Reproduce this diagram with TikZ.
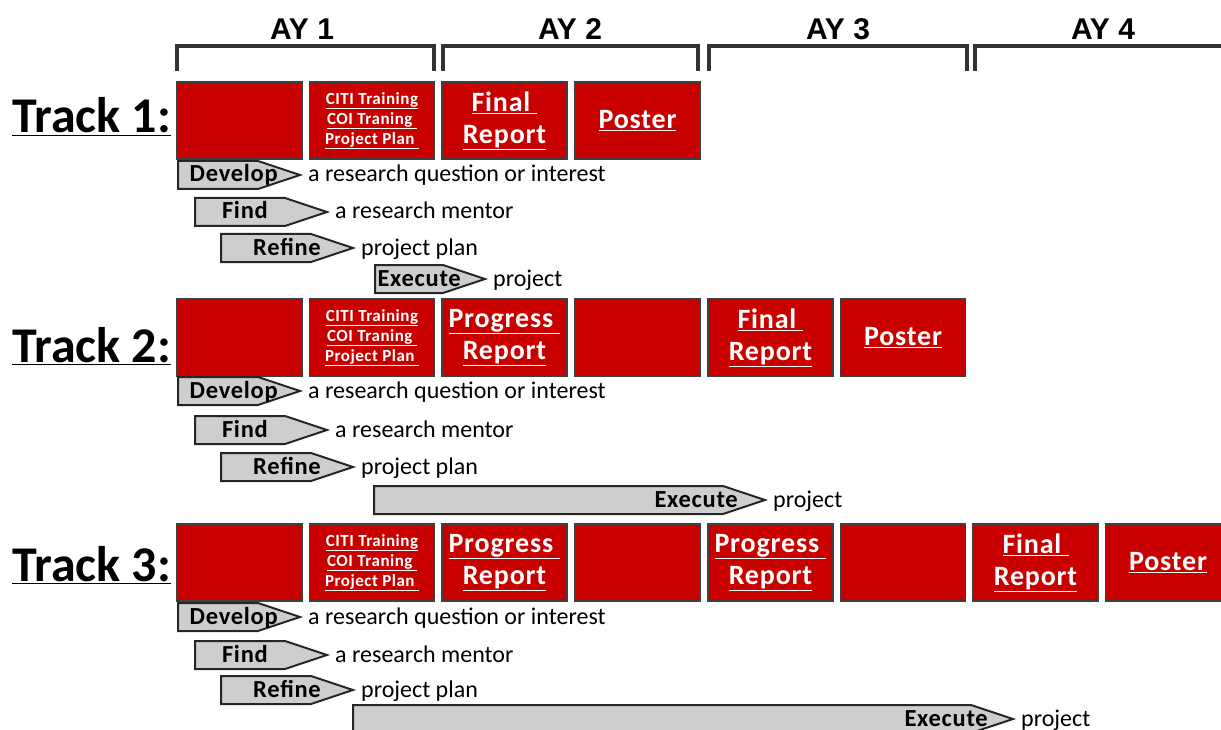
\documentclass[tikz,border=0pt]{standalone}
\usepackage{fontspec}
\setmainfont{Carlito}
\newfontfamily\spacedfont{Carlito}[LetterSpace=3]
\newfontfamily\yearfont{Liberation Sans}
\usepackage{xcolor}
\definecolor{boxred}{RGB}{200,0,0}
\definecolor{phasegray}{RGB}{206,206,206}
\definecolor{edgegray}{RGB}{64,64,64}

\tikzset{
  yearlabel/.style={anchor=base, font=\yearfont\bfseries\fontsize{30}{30}\selectfont},
  bracket/.style={line width=4.5pt, draw=black!80, line join=miter},
  tracklabel/.style={anchor=base west, inner sep=0pt, font=\bfseries\fontsize{50}{52}\selectfont},
  redbox/.style={draw=edgegray, line width=1.5pt, fill=boxred, minimum width=125pt,
    minimum height=77pt, inner sep=0pt, text=white, align=center,
    font=\spacedfont\bfseries\fontsize{28}{32}\selectfont},
  smallbox/.style={redbox, font=\spacedfont\bfseries\fontsize{17}{20}\selectfont},
  phase/.style={draw=black!85, line width=2pt, fill=phasegray, line join=miter},
  phaseword/.style={anchor=base east, inner sep=0pt, font=\spacedfont\bfseries\fontsize{24.5}{25}\selectfont},
  phasegoal/.style={anchor=base west, inner sep=0pt, font=\fontsize{24}{24}\selectfont}
}

% #1 name, #2 left x, #3 top y, #4 tip x, #5 right end of word, #6 word, #7 goal
\newcommand{\phasebar}[7]{%
  \draw[phase] (#2,#3) -- (#4-42,#3) -- (#4,#3+14) -- (#4-42,#3+28) -- (#2,#3+28) -- cycle;
  \node[phaseword] (#1) at (#5,#3+21) {#6};
  \node[phasegoal] (#1-goal) at (#4+8,#3+21) {#7};}

\begin{document}
\begin{tikzpicture}[x=1pt,y=-1pt]
  \useasboundingbox (0,0) rectangle (1221,730);

  % academic years
  \draw[bracket] (177,71) -- (177,46) -- (434,46) -- (434,71);
  \draw[bracket] (443,71) -- (443,46) -- (698,46) -- (698,71);
  \draw[bracket] (709,71) -- (709,46) -- (967,46) -- (967,71);
  \draw[bracket] (975,71) -- (975,46) -- (1240,46);
  \node[yearlabel] (ay1) at (302,40) {AY 1};
  \node[yearlabel] (ay2) at (570,40) {AY 2};
  \node[yearlabel] (ay3) at (838,40) {AY 3};
  \node[yearlabel] (ay4) at (1103,40) {AY 4};

  % track 1
  \node[tracklabel] (track1) at (12,133) {\underline{Track 1:}};
  \node[redbox] (t1a) at (239.5,120.5) {};
  \node[smallbox] (t1b) at (372,120.5) {\underline{CITI Training}\\\underline{COI Traning\ }\\\underline{Project Plan\ }};
  \node[redbox] (t1c) at (504.5,120.5) {\underline{Final\ }\\\underline{Report}};
  \node[redbox] (t1d) at (637.5,120.5) {\underline{Poster}};
  \phasebar{dev1}{178}{161}{300}{278}{Develop}{a research question or interest}
  \phasebar{find1}{195}{198}{327}{268}{Find}{a research mentor}
  \phasebar{ref1}{221}{234}{353}{321}{Refine}{project plan}
  \phasebar{exe1}{375}{265}{485}{461}{Execute}{project}

  % track 2
  \node[tracklabel] (track2) at (12,362) {\underline{Track 2:}};
  \node[redbox] (t2a) at (239.5,337.5) {};
  \node[smallbox] (t2b) at (372,337.5) {\underline{CITI Training}\\\underline{COI Traning\ }\\\underline{Project Plan\ }};
  \node[redbox] (t2c) at (504.5,337.5) {\underline{Progress\ }\\\underline{Report}};
  \node[redbox] (t2d) at (637.5,337.5) {};
  \node[redbox] (t2e) at (770.5,337.5) {\underline{Final\ }\\\underline{Report}};
  \node[redbox] (t2f) at (903,337.5) {\underline{Poster}};
  \phasebar{dev2}{178}{377}{300}{278}{Develop}{a research question or interest}
  \phasebar{find2}{195}{416}{327}{268}{Find}{a research mentor}
  \phasebar{ref2}{221}{453}{353}{321}{Refine}{project plan}
  \phasebar{exe2}{374}{486}{765}{738}{Execute}{project}

  % track 3
  \node[tracklabel] (track3) at (12,581) {\underline{Track 3:}};
  \node[redbox] (t3a) at (239.5,562.5) {};
  \node[smallbox] (t3b) at (372,562.5) {\underline{CITI Training}\\\underline{COI Traning\ }\\\underline{Project Plan\ }};
  \node[redbox] (t3c) at (504.5,562.5) {\underline{Progress\ }\\\underline{Report}};
  \node[redbox] (t3d) at (637.5,562.5) {};
  \node[redbox] (t3e) at (770.5,562.5) {\underline{Progress\ }\\\underline{Report}};
  \node[redbox] (t3f) at (903,562.5) {};
  \node[redbox] (t3g) at (1035.5,562.5) {\underline{Final\ }\\\underline{Report}};
  \node[redbox] (t3h) at (1168,562.5) {\underline{Poster}};
  \phasebar{dev3}{178}{603}{300}{278}{Develop}{a research question or interest}
  \phasebar{find3}{195}{641}{327}{268}{Find}{a research mentor}
  \phasebar{ref3}{221}{676}{353}{321}{Refine}{project plan}
  \phasebar{exe3}{353}{705}{1013}{988}{Execute}{project}
\end{tikzpicture}
\end{document}
